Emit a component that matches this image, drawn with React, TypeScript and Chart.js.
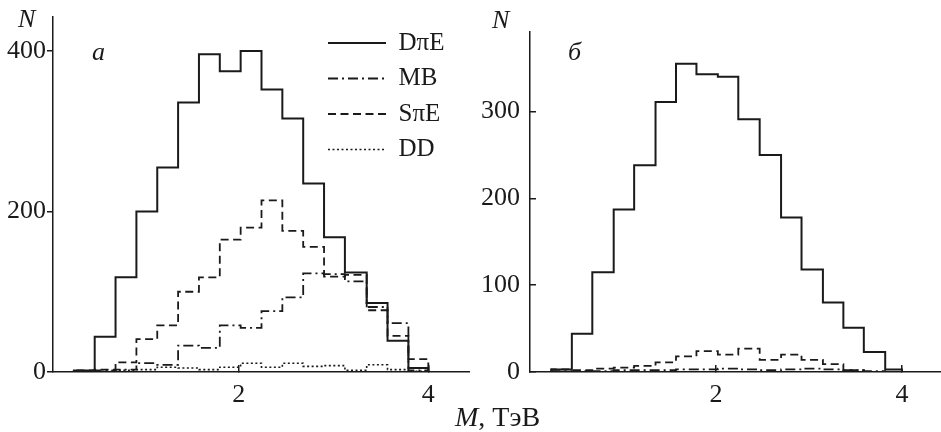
import React, { useEffect, useRef } from "react";
import { Chart, registerables } from "chart.js";

Chart.register(...registerables);

const INK = "#1a1a1a";
const FAMILY = '"Liberation Serif", "Times New Roman", serif';

const seriesNames = ["DπE", "MB", "SπE", "DD"];

// Panel а — bin edges (TeV) and counts per bin
const edgesA = [0.04, 0.26, 0.48, 0.70, 0.92, 1.14, 1.36, 1.58, 1.80, 2.02, 2.24, 2.46, 2.68, 2.90, 3.12, 3.35, 3.57, 3.79, 4.00];
const dpeA = [0, 2, 44, 118, 200, 255, 336, 396, 375, 400, 352, 316, 235, 168, 124, 86, 39, 5];
const mbA = [0, 1, 2, 3, 11, 9, 33, 30, 58, 55, 76, 93, 123, 122, 113, 81, 61, 2];
const speA = [0, 2, 3, 12, 41, 58, 100, 118, 165, 180, 214, 176, 156, 119, 121, 77, 45, 16];
const ddA = [0, 0, 1, 2, 3, 6, 5, 3, 6, 11, 6, 11, 7, 8, 2, 9, 3, 1];

// Panel б
const edgesB = [0.23, 0.45, 0.67, 0.90, 1.12, 1.35, 1.57, 1.79, 2.02, 2.24, 2.47, 2.70, 2.92, 3.15, 3.37, 3.59, 3.82, 4.00];
const dpeB = [3, 44, 115, 187, 238, 311, 355, 343, 340, 291, 250, 178, 118, 80, 51, 23, 3];
const mbB = [1, 1, 1, 2, 2, 2, 3, 3, 4, 3, 2, 3, 4, 3, 2, 1, 0];
const speB = [3, 2, 4, 5, 7, 11, 18, 24, 20, 27, 14, 20, 14, 9, 2, 0, 0];

const xTicks = [2, 4];
const yTicksA = [0, 200, 400];
const yTicksB = [0, 100, 200, 300];

const styles = [
  { borderWidth: 2, borderDash: [] as number[] },
  { borderWidth: 1.8, borderDash: [10, 4, 2, 4] },
  { borderWidth: 1.8, borderDash: [8, 4.5] },
  { borderWidth: 1.6, borderDash: [2, 2.5] },
];

function stepPoints(edges: number[], values: number[]) {
  const pts: { x: number; y: number }[] = [{ x: edges[0], y: 0 }];
  values.forEach((v, i) => pts.push({ x: edges[i], y: v }));
  const last = edges[edges.length - 1];
  pts.push({ x: last, y: values[values.length - 1] });
  pts.push({ x: last, y: 0 });
  return pts;
}

function makeDataset(idx: number, edges: number[], values: number[]) {
  return {
    label: seriesNames[idx],
    data: stepPoints(edges, values),
    borderColor: INK,
    backgroundColor: INK,
    borderWidth: styles[idx].borderWidth,
    borderDash: styles[idx].borderDash,
    stepped: "before" as const,
    pointRadius: 0,
    fill: false,
  };
}

type TextSeg = { text: string; italic?: boolean; size?: number };
type TextItem = { x: number; y: number; segs: TextSeg[] };

function textPlugin(items: TextItem[]) {
  return {
    id: "panelText",
    afterDraw(chart: any) {
      const ctx = chart.ctx as CanvasRenderingContext2D;
      ctx.save();
      ctx.fillStyle = INK;
      ctx.textBaseline = "alphabetic";
      ctx.textAlign = "left";
      for (const it of items) {
        let x = it.x;
        for (const s of it.segs) {
          ctx.font = `${s.italic ? "italic " : ""}${s.size || 26}px ${FAMILY}`;
          ctx.fillText(s.text, x, it.y);
          x += ctx.measureText(s.text).width;
        }
      }
      ctx.restore();
    },
  };
}

const legendPlacer = {
  id: "legendPlacer",
  afterInit(chart: any) {
    const lg = chart.legend;
    if (!lg) return;
    const orig = lg.fit;
    lg.fit = function () {
      orig.call(this);
      this.width = 0;
      this.height = 0;
    };
  },
  afterLayout(chart: any) {
    const lg = chart.legend;
    if (!lg) return;
    const pad = 10.5;
    lg.left = 328 - pad;
    lg.top = 20;
    lg.right = chart.width;
    lg.bottom = lg.top + 200;
    lg.width = lg.right - lg.left;
    lg.height = 200;
  },
};

function axisCommon(tickLength: number, padding: number) {
  return {
    grid: {
      drawOnChartArea: false,
      drawTicks: true,
      tickLength,
      color: INK,
      tickColor: INK,
      lineWidth: 1.5,
      tickWidth: 1.5,
    },
    border: { display: true, color: INK, width: 1.5 },
    ticks: {
      font: { family: FAMILY, size: 26 },
      color: INK,
      padding,
      maxRotation: 0,
      autoSkip: false,
    },
  };
}

function buildConfig(panel: "a" | "b"): any {
  const isA = panel === "a";
  const datasets = isA
    ? [makeDataset(0, edgesA, dpeA), makeDataset(1, edgesA, mbA), makeDataset(2, edgesA, speA), makeDataset(3, edgesA, ddA)]
    : [makeDataset(0, edgesB, dpeB), makeDataset(1, edgesB, mbB), makeDataset(2, edgesB, speB)];
  const yTicks = isA ? yTicksA : yTicksB;
  const texts: TextItem[] = isA
    ? [
        { x: 18, y: 27, segs: [{ text: "N", italic: true }] },
        { x: 92, y: 60, segs: [{ text: "а", italic: true }] },
      ]
    : [
        { x: 62, y: 28, segs: [{ text: "N", italic: true }] },
        { x: 138, y: 60, segs: [{ text: "б", italic: true }] },
        { x: 25, y: 426, segs: [{ text: "M", italic: true, size: 28 }, { text: ", ТэВ", size: 28 }] },
      ];
  return {
    type: "line",
    data: { datasets },
    options: {
      responsive: false,
      animation: false,
      events: [],
      layout: { padding: { top: 15, right: 0, left: 0, bottom: 0 } },
      plugins: {
        tooltip: { enabled: false },
        title: { display: false },
        legend: isA
          ? {
              display: true,
              position: "right",
              align: "start",
              labels: {
                usePointStyle: true,
                pointStyle: "line",
                pointStyleWidth: 58,
                boxHeight: 25,
                padding: 10.5,
                textAlign: "left",
                color: INK,
                font: { family: FAMILY, size: 25 },
                generateLabels: (chart: any) =>
                  chart.data.datasets.map((ds: any, i: number) => ({
                    text: ds.label,
                    fillStyle: INK,
                    strokeStyle: INK,
                    fontColor: INK,
                    lineWidth: ds.borderWidth,
                    lineDash: ds.borderDash,
                    lineCap: "butt",
                    pointStyle: "line",
                    hidden: false,
                    datasetIndex: i,
                  })),
              },
            }
          : { display: false },
      },
      scales: {
        x: {
          type: "linear",
          min: isA ? 0.04 : 0,
          max: isA ? 4.44 : 4.42,
          afterBuildTicks: (s: any) => {
            s.ticks = xTicks.map((v) => ({ value: v }));
          },
          afterFit: (s: any) => {
            s.height = 60;
          },
          ...axisCommon(-7, 15),
        },
        y: {
          type: "linear",
          min: 0,
          max: isA ? 443 : 392,
          afterBuildTicks: (s: any) => {
            s.ticks = yTicks.map((v) => ({ value: v }));
          },
          afterFit: (s: any) => {
            s.width = isA ? 53 : 100;
          },
          ...(isA ? axisCommon(6, 1) : axisCommon(-6, 16)),
        },
      },
    },
    plugins: isA ? [legendPlacer, textPlugin(texts)] : [textPlugin(texts)],
  };
}

function Panel(props: { panel: "a" | "b"; left: number; width: number }) {
  const ref = useRef<HTMLCanvasElement | null>(null);
  useEffect(() => {
    if (!ref.current) return;
    const chart = new Chart(ref.current, buildConfig(props.panel));
    return () => chart.destroy();
  }, [props.panel]);
  return (
    <canvas
      ref={ref}
      width={props.width}
      height={432}
      style={{ position: "absolute", left: props.left, top: 0, width: props.width, height: 432 }}
    />
  );
}

export default function App() {
  return (
    <div style={{ position: "absolute", left: 0, top: 0, width: 941, height: 432, background: "#fff" }}>
      <Panel panel="a" left={0} width={470} />
      <Panel panel="b" left={430} width={511} />
    </div>
  );
}
